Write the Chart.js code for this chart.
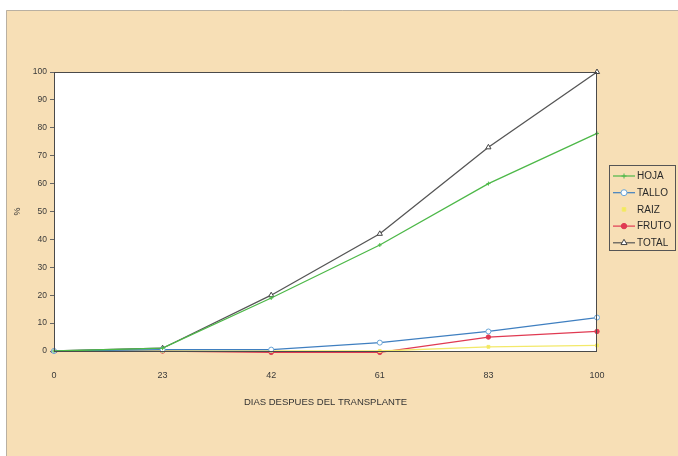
<!DOCTYPE html>
<html>
<head>
<meta charset="utf-8">
<script src="https://cdn.jsdelivr.net/npm/chart.js@4.4.0/dist/chart.umd.min.js"></script>
<style>
    html, body { margin: 0; padding: 0; background: #ffffff; }
    #wrap { width: 678px; height: 456px; position: relative; }
</style>
</head>
<body>
<div id="wrap"><canvas id="growthChart" width="678" height="456"></canvas></div>
<script>
// dias despues del transplante
const days = ['0', '23', '42', '61', '83', '100'];
const yTicks = [0, 10, 20, 30, 40, 50, 60, 70, 80, 90, 100];

const hoja = [0, 1, 19, 38, 60, 78];
const tallo = [0, 0.5, 0.5, 3, 7, 12];
const raiz = [0, 0, 0, 0, 1.5, 2];
const fruto = [0, 0, -0.5, -0.5, 5, 7];
const total = [0, 1, 20, 42, 73, 100];

const BEIGE = '#f7dfb6';
const FONT = '"Liberation Sans", Arial, sans-serif';

// fondo beige con borde blanco del escaneo
const pagePlugin = {
    id: 'page',
    beforeDraw(chart) {
        const ctx = chart.ctx;
        ctx.save();
        ctx.fillStyle = '#ffffff';
        ctx.fillRect(0, 0, chart.width, chart.height);
        ctx.fillStyle = BEIGE;
        ctx.fillRect(6, 10, chart.width - 6, chart.height - 10);
        ctx.strokeStyle = '#b9b0a2';
        ctx.lineWidth = 1;
        ctx.beginPath();
        ctx.moveTo(6.5, chart.height);
        ctx.lineTo(6.5, 10.5);
        ctx.lineTo(chart.width, 10.5);
        ctx.stroke();
        const a = chart.chartArea;
        ctx.fillStyle = '#ffffff';
        ctx.fillRect(a.left, a.top, a.right - a.left, a.bottom - a.top);
        ctx.restore();
    },
    afterDatasetsDraw(chart) {
        const ctx = chart.ctx;
        const a = chart.chartArea;
        ctx.save();
        ctx.strokeStyle = '#4a4a4a';
        ctx.lineWidth = 1;
        ctx.strokeRect(a.left + 0.5, a.top + 0.5, a.right - a.left - 1, a.bottom - a.top);
        ctx.restore();
    }
};

// leyenda con recuadro, linea y marcador
const boxLegend = {
    id: 'boxLegend',
    afterDraw(chart) {
        const ctx = chart.ctx;
        const x = 609, y = 165, w = 66, h = 85;
        ctx.save();
        ctx.strokeStyle = '#555555';
        ctx.lineWidth = 1;
        ctx.strokeRect(x + 0.5, y + 0.5, w, h);
        ctx.beginPath();
        ctx.rect(x, y, w, h);
        ctx.clip();
        ctx.font = '10px ' + FONT;
        ctx.textBaseline = 'middle';
        chart.data.datasets.forEach((ds, i) => {
            const ry = y + 11 + i * 16.7;
            ctx.strokeStyle = ds.borderColor;
            ctx.lineWidth = 1.2;
            if (ds.legendLine !== false) {
                ctx.beginPath();
                ctx.moveTo(x + 4, ry);
                ctx.lineTo(x + 26, ry);
                ctx.stroke();
            }
            ctx.fillStyle = ds.pointBackgroundColor;
            ctx.strokeStyle = ds.pointBorderColor;
            ctx.lineWidth = 1;
            Chart.helpers.drawPoint(ctx, {
                pointStyle: ds.pointStyle,
                radius: ds.pointRadius + 0.5,
                rotation: 0,
                borderWidth: 1
            }, x + 15, ry);
            ctx.fillStyle = '#2a2a2a';
            ctx.fillText(ds.label, x + 28, ry + 0.5);
        });
        ctx.restore();
    }
};

function series(label, data, color, style, radius, fill, markerColor) {
    return {
        label: label,
        data: data,
        borderColor: color,
        backgroundColor: color,
        borderWidth: 1.3,
        pointStyle: style,
        pointRadius: radius,
        pointBackgroundColor: fill,
        pointBorderColor: markerColor || color,
        pointBorderWidth: 1,
        tension: 0,
        clip: false
    };
}

function initGrowthChart() {
    const ctx = document.getElementById('growthChart');
    if (!ctx) return;

    const raizSeries = series('RAIZ', raiz, '#f3e96a', 'rect', 2, '#f3ea5a');
    raizSeries.legendLine = false;

    const chart = new Chart(ctx, {
        type: 'line',
        data: {
            labels: days,
            datasets: [
                series('HOJA', hoja, '#4db848', 'cross', 2, '#4db848'),
                series('TALLO', tallo, '#3f7fc0', 'circle', 2.5, '#ffffff', '#6aa6d8'),
                raizSeries,
                series('FRUTO', fruto, '#e03a52', 'circle', 2.2, '#e03a52'),
                series('TOTAL', total, '#555555', 'triangle', 3, '#ffffff', '#444444')
            ]
        },
        options: {
            responsive: false,
            animation: false,
            layout: {
                padding: { left: 0, top: 72, right: 81, bottom: 48 }
            },
            plugins: {
                legend: { display: false },
                tooltip: { enabled: false }
            },
            scales: {
                x: {
                    type: 'category',
                    offset: false,
                    afterFit: function(scale) { scale.height = 57; },
                    title: {
                        display: true,
                        text: 'DIAS DESPUES DEL TRANSPLANTE',
                        color: '#333333',
                        font: { family: FONT, size: 9.5 },
                        padding: { top: 0, bottom: 0 }
                    },
                    grid: {
                        display: true,
                        drawOnChartArea: false,
                        drawTicks: false,
                        color: '#777777'
                    },
                    border: { display: false },
                    ticks: {
                        color: '#3a3a3a',
                        padding: 19,
                        maxRotation: 0,
                        font: { family: FONT, size: 9 }
                    }
                },
                y: {
                    min: 0,
                    max: 100,
                    afterFit: function(scale) { scale.width = 54; },
                    afterBuildTicks: function(scale) {
                        scale.ticks = yTicks.map(v => ({ value: v }));
                    },
                    title: {
                        display: true,
                        text: '%',
                        color: '#333333',
                        font: { family: FONT, size: 9 },
                        padding: { top: 12, bottom: 0 }
                    },
                    grid: {
                        display: true,
                        drawOnChartArea: false,
                        drawTicks: true,
                        tickLength: 4,
                        color: '#666666'
                    },
                    border: { display: false },
                    ticks: {
                        color: '#3a3a3a',
                        padding: 3,
                        font: { family: FONT, size: 8.5 }
                    }
                }
            }
        },
        plugins: [pagePlugin, boxLegend]
    });

    window.growthChart = chart;
}

document.addEventListener('DOMContentLoaded', initGrowthChart);
</script>
</body>
</html>
